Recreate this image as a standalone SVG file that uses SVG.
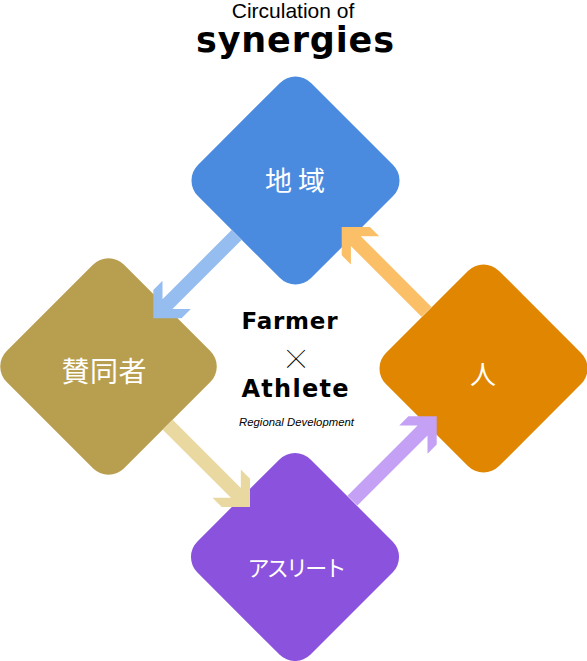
<svg xmlns="http://www.w3.org/2000/svg" width="587" height="661" viewBox="0 0 587 661">
  <style>
    .lbl { font-family: "Noto Sans CJK JP", "Noto Sans CJK SC", sans-serif; fill: #ffffff; text-anchor: middle; }
    .bold { font-family: "DejaVu Sans", "Liberation Sans", sans-serif; font-weight: bold; fill: #000000; }
    .reg { font-family: "Liberation Sans", Arial, sans-serif; fill: #000000; }
  </style>
  <rect width="587" height="661" fill="#ffffff"/>

  <g id="title">
    <text class="reg" x="293" y="18" font-size="21" text-anchor="middle">Circulation of</text>
    <text class="bold" x="295" y="52" font-size="35" text-anchor="middle" textLength="198">synergies</text>
  </g>

  <g id="node-chiiki">
    <rect x="-80" y="-80" width="160" height="160" rx="22" fill="#4a8be0" transform="translate(295.5,180.5) rotate(45)"/>
    <text class="lbl" x="295" y="191" font-size="27" textLength="60">地域</text>
  </g>
  <g id="node-sandosha">
    <rect x="-83" y="-83" width="166" height="166" rx="22" fill="#b89f50" transform="translate(108.5,366.5) rotate(45)"/>
    <text class="lbl" x="104" y="381.5" font-size="28" textLength="85">賛同者</text>
  </g>
  <g id="node-hito">
    <rect x="-80" y="-80" width="160" height="160" rx="22" fill="#e18600" transform="translate(483.5,368.5) rotate(45)"/>
    <text class="lbl" x="483" y="384" font-size="26">人</text>
  </g>
  <g id="node-athlete">
    <rect x="-80" y="-80" width="160" height="160" rx="22" fill="#8b52dd" transform="translate(295,557) rotate(45)"/>
    <text class="lbl" x="297" y="576" font-size="22" textLength="99">アスリート</text>
  </g>

  <g id="connectors">
    <polygon fill="#95bdf0" transform="translate(153.3,318.3) rotate(135)" points="0,0 -20,-20 -33,-20 -20,-7 -117.8,-7 -117.8,7 -20,7 -33,20 -20,20"/>
    <polygon fill="#fbbf68" transform="translate(341.7,227) rotate(225)" points="0,0 -20,-20 -33,-20 -20,-7 -120,-7 -120,7 -20,7 -33,20 -20,20"/>
    <polygon fill="#e9d9a0" transform="translate(250,507) rotate(45)" points="0,0 -20,-20 -33,-20 -20,-7 -116.4,-7 -116.4,7 -20,7 -33,20 -20,20"/>
    <polygon fill="#c4a1f5" transform="translate(436.7,416.3) rotate(-45)" points="0,0 -20,-20 -33,-20 -20,-7 -119.2,-7 -119.2,7 -20,7 -33,20 -20,20"/>
  </g>

  <g id="center">
    <text class="bold" x="241.5" y="329.3" font-size="23" textLength="96">Farmer</text>
    <text x="296" y="371" font-family="Inter, 'Noto Sans', sans-serif" font-weight="100" font-size="44" text-anchor="middle" fill="#000000">×</text>
    <text class="bold" x="241.5" y="396.7" font-size="24" textLength="107">Athlete</text>
    <text class="reg" x="239" y="426" font-size="11.3" font-style="italic" textLength="115">Regional Development</text>
  </g>
</svg>
